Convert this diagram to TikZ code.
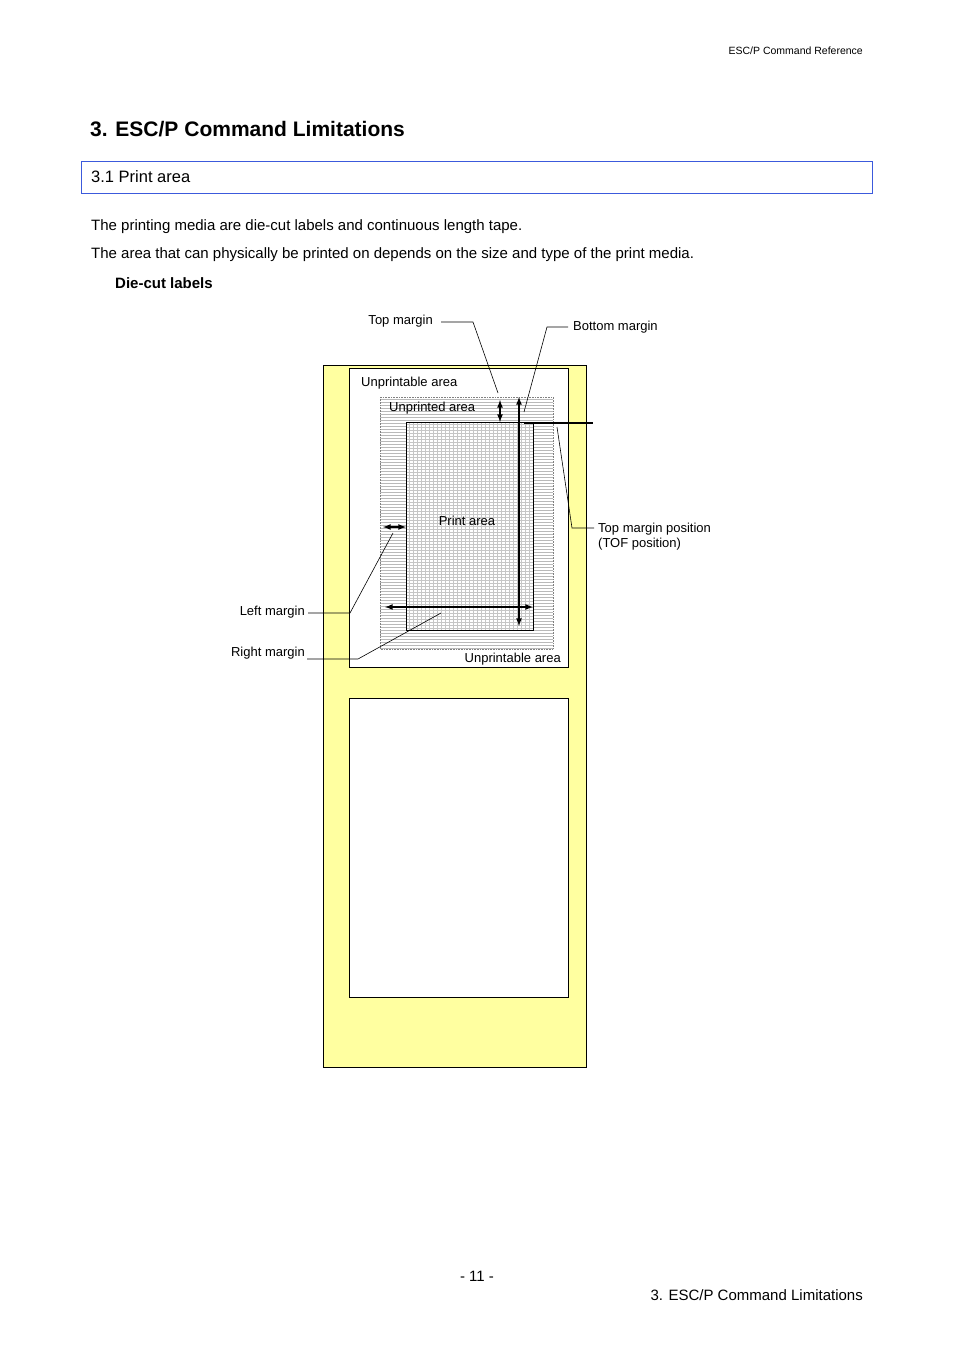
\documentclass[tikz,border=0pt]{standalone}
\usepackage{fontspec}
\setmainfont{Liberation Sans}
\begin{document}
\begin{tikzpicture}[x=1pt,y=-1pt,
  lbl/.style={inner sep=0pt,font=\fontsize{13}{15}\selectfont},
  body/.style={inner sep=0pt,anchor=west,font=\fontsize{15}{18}\selectfont},
  lead/.style={line width=0.6pt},
  arr/.style={line width=1.6pt,<->,>=latex}]
\useasboundingbox (0,0) rectangle (954,1350);
\node[inner sep=0pt,anchor=east,font=\fontsize{10.5}{12}\selectfont] (hdr) at (863,51) {ESC/P Command Reference};
\node[inner sep=0pt,anchor=west,font=\bfseries\fontsize{21}{25}\selectfont] (title) at (90,129) {3. ESC/P Command Limitations};
\draw[draw={rgb,255:red,60;green,90;blue,220},line width=0.7pt] (81,161) rectangle (872,193);
\node[body,font=\fontsize{16.5}{19}\selectfont] (sec) at (91,177) {3.1 Print area};
\node[body] (p1) at (91,227) {The printing media are die-cut labels and continuous length tape.};
\node[body] (p2) at (91,255) {The area that can physically be printed on depends on the size and type of the print media.};
\node[body,font=\bfseries\fontsize{15}{18}\selectfont] (p3) at (115,283) {Die-cut labels};
% media
\draw[fill={rgb,255:red,255;green,255;blue,160},line width=0.7pt] (323,365) rectangle (586,1067);
\draw[fill=white,line width=0.7pt] (349,368) rectangle (568,667);
\draw[fill=white,line width=0.7pt] (349,698) rectangle (568,997);
% unprinted area
\begin{scope}
\clip (380,397) rectangle (553,649);
\foreach \y in {399,402,...,649} \draw[gray!55,line width=0.6pt] (380,\y) -- (553,\y);
\end{scope}
\draw[densely dotted,gray,line width=0.6pt] (380,397) rectangle (553,649);
% print area
\fill[white] (406,422) rectangle (533,630);
\begin{scope}
\clip (406,422) rectangle (533,630);
\foreach \y in {424,427,...,630} \draw[gray!45,line width=0.6pt] (406,\y) -- (533,\y);
\foreach \x in {409,413,...,533} \draw[gray!45,line width=0.6pt] (\x,422) -- (\x,630);
\end{scope}
\draw[line width=0.7pt] (406,422) rectangle (533,630);
% texts
\node[lbl,anchor=west] (ua1) at (361,383) {Unprintable area};
\node[lbl,anchor=west] (upa) at (389,408) {Unprinted area};
\node[lbl] (pa) at (467,521) {Print area};
\node[lbl,anchor=east] (ua2) at (561,659) {Unprintable area};
% arrows
\draw[arr] (519,397) -- (519,626);
\draw[arr] (500,400) -- (500,422);
\draw[arr] (383,527) -- (406,527);
\draw[arr] (385,607) -- (533,607);
\draw[line width=1.6pt] (524,423) -- (593,423);
% leaders
\node[lbl,anchor=east] (tm) at (433,321) {Top margin};
\draw[lead] (441,322) -- (473,322) -- (498,393);
\node[lbl,anchor=west] (bm) at (573,327) {Bottom margin};
\draw[lead] (524,412) -- (547,327) -- (568,327);
\node[lbl,anchor=west,align=left] (tof) at (598,537) {Top margin position\\(TOF position)};
\draw[lead] (557,427) -- (572,528) -- (594,528);
\node[lbl,anchor=east] (lm) at (305,612) {Left margin};
\draw[lead] (308,613) -- (350,613) -- (393,533);
\node[lbl,anchor=east] (rm) at (305,653) {Right margin};
\draw[lead] (307,659) -- (358,659) -- (441,613);
% footer
\node[inner sep=0pt,font=\fontsize{15}{18}\selectfont] (pg) at (477,1276) {- 11 -};
\node[inner sep=0pt,anchor=east,font=\fontsize{15}{18}\selectfont] (ft) at (863,1295) {3. ESC/P Command Limitations};
\end{tikzpicture}
\end{document}
